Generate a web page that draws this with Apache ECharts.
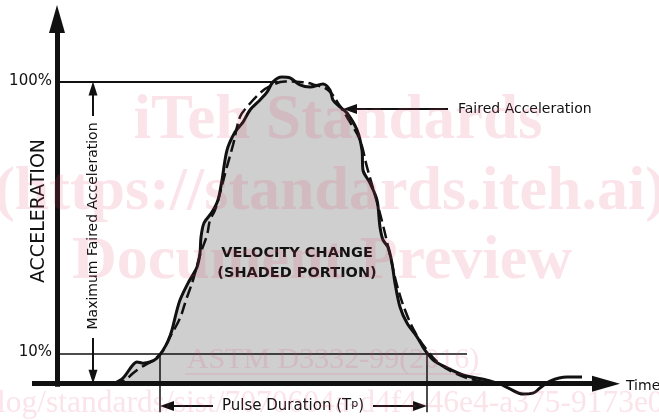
<!DOCTYPE html>
<html>
<head>
<meta charset="utf-8">
<script src="https://cdn.jsdelivr.net/npm/echarts@6/dist/echarts.min.js"></script>
<style>
  html, body { margin: 0; padding: 0; background: #fff; }
  #chart { width: 659px; height: 420px; }
</style>
</head>
<body>
<div id="chart"></div>
<script>
// measured acceleration pulse (solid), time in arbitrary units, acceleration in % of max faired
const pulseTime  = [56, 66, 75, 80, 86, 93, 100, 106, 111, 115, 119, 123, 131, 140, 143, 144, 147, 155, 161, 165, 170, 178, 186, 193, 203, 210, 216, 225, 233, 243, 253, 266, 273, 276, 283, 290, 300, 305, 306, 313, 320, 323, 326, 331, 335, 338, 343, 350, 360, 366, 370, 376, 386, 406, 430, 443];
const pulseAccel = [0, 1.9, 5.9, 7.2, 6.8, 7.2, 8.5, 11.1, 14.1, 17.8, 23.1, 27.7, 33.3, 38.6, 43.3, 48.5, 53.2, 56.8, 60.8, 67.4, 77.3, 83.3, 86.6, 90.6, 93.9, 96.5, 99.9, 101.5, 101.2, 98.9, 98.2, 99.2, 97.2, 93.9, 91.6, 89.6, 84.0, 77.3, 70.7, 66.4, 60.8, 51.9, 47.6, 45.2, 39.9, 33.3, 25.4, 20.1, 15.5, 12.1, 10.2, 7.9, 5.9, 2.9, 1.2, 0];

// ringing after the pulse
const tailTime  = [443, 453, 466, 476, 483, 493, 510, 525];
const tailAccel = [0, -1.7, -3.4, -3.1, -1.4, 0.9, 2.2, 2.2];

// faired acceleration (dashed)
const fairedTime  = [56, 68, 76, 83, 96, 105, 113, 123, 129, 136, 143, 150, 153, 158, 163, 169, 176, 183, 190, 203, 213, 228, 243, 258, 271, 283, 293, 303, 310, 318, 326, 333, 340, 348, 358, 370, 383, 398, 413, 433];
const fairedAccel = [0, 1.2, 3.5, 5.2, 7.8, 10.5, 15.5, 21.7, 27.7, 34.3, 42.6, 49.2, 54.1, 57.5, 63.1, 70.7, 79.0, 88.3, 91.6, 96.2, 98.5, 100, 99.9, 98.9, 97.2, 91.9, 86.6, 80.6, 71.7, 62.4, 52.5, 42.6, 32.6, 24.4, 17.1, 11.1, 6.5, 3.5, 1.6, 0.2];

const levelLabels = ['100%', '10%'];
const levels = [100, 10];
const pulseStart = 103, pulseEnd = 370;

const zip = (xs, ys) => xs.map((x, i) => [x, ys[i]]);

const ink = '#111';
const wm = 'rgba(225,70,115,0.15)';
const sans = '"DejaVu Sans", Verdana, sans-serif';
const serif = '"Liberation Serif", "Times New Roman", serif';

function seg(x1, y1, x2, y2, width, head) {
  const end = { coord: [x2, y2], symbol: head ? 'triangle' : 'none' };
  if (head) end.symbolSize = head;
  return [{ coord: [x1, y1], symbol: 'none', lineStyle: { color: ink, width, type: 'solid' } }, end];
}

const chart = echarts.init(document.getElementById('chart'));

chart.setOption({
  animation: false,
  grid: { left: 0, right: 0, top: 0, bottom: 0 },
  xAxis: { type: 'value', min: -57, max: 602, show: false },
  yAxis: { type: 'value', min: -12, max: 127, show: false },
  series: [
    {
      type: 'line',
      data: zip(pulseTime, pulseAccel),
      smooth: 0.3,
      symbol: 'none',
      lineStyle: { color: ink, width: 3 },
      areaStyle: { color: '#cfcfcf', opacity: 1 },
      silent: true,
      z: 2
    },
    {
      type: 'line',
      data: zip(tailTime, tailAccel),
      smooth: 0.4,
      symbol: 'none',
      lineStyle: { color: ink, width: 3 },
      silent: true,
      z: 2
    },
    {
      type: 'line',
      data: zip(fairedTime, fairedAccel),
      smooth: 0.4,
      symbol: 'none',
      lineStyle: { color: ink, width: 2.5, type: [12, 5] },
      silent: true,
      z: 3
    },
    {
      type: 'line',
      data: [],
      silent: true,
      z: 4,
      markLine: {
        silent: true,
        symbol: 'none',
        label: { show: false },
        emphasis: { disabled: true },
        data: [
          // axes
          seg(0, -1, 0, 120.7, 5, [16, 28]),
          seg(-25, 0, 549, 0, 5, [16, 28]),
          // 100% and 10% levels
          seg(0, levels[0], 221, levels[0], 2),
          seg(0, levels[1], 410, levels[1], 1.5),
          // pulse duration
          seg(pulseStart, levels[1], pulseStart, -9.4, 1.5),
          seg(pulseEnd, levels[1], pulseEnd, -9.4, 1.5),
          seg(156, -7.4, pulseStart + 7, -7.4, 2, [10, 14]),
          seg(316, -7.4, pulseEnd - 7, -7.4, 2, [10, 14]),
          // maximum faired acceleration
          seg(36, 88.6, 36, 97.7, 2, [9, 14]),
          seg(36, 15.1, 36, 2.3, 2, [9, 14]),
          // faired acceleration pointer
          seg(391, 90.9, 293, 90.9, 2, [10, 14])
        ]
      }
    }
  ],
  graphic: [
    { type: 'text', x: 52, y: 81.5, style: { text: levelLabels[0], fill: ink, fontSize: 15, fontFamily: sans, align: 'right', verticalAlign: 'middle' } },
    { type: 'text', x: 52, y: 352, style: { text: levelLabels[1], fill: ink, fontSize: 15, fontFamily: sans, align: 'right', verticalAlign: 'middle' } },
    { type: 'text', x: 39, y: 211, rotation: Math.PI / 2, style: { text: 'ACCELERATION', fill: ink, fontSize: 19, fontFamily: sans, align: 'center', verticalAlign: 'middle' } },
    { type: 'text', x: 93, y: 226, rotation: Math.PI / 2, style: { text: 'Maximum Faired Acceleration', fill: ink, fontSize: 14, fontFamily: sans, align: 'center', verticalAlign: 'middle' } },
    { type: 'text', x: 458, y: 109, style: { text: 'Faired Acceleration', fill: ink, fontSize: 14, fontFamily: sans, align: 'left', verticalAlign: 'middle' } },
    { type: 'text', x: 297, y: 253, z: 10, style: { text: 'VELOCITY CHANGE', fill: ink, fontSize: 14.5, fontWeight: 'bold', fontFamily: sans, align: 'center', verticalAlign: 'middle' } },
    { type: 'text', x: 297, y: 273, z: 10, style: { text: '(SHADED PORTION)', fill: ink, fontSize: 14.5, fontWeight: 'bold', fontFamily: sans, align: 'center', verticalAlign: 'middle' } },
    {
      type: 'text', x: 222, y: 413,
      style: {
        text: '{a|Pulse Duration (T}{b|p}{a|)}',
        align: 'left', verticalAlign: 'middle',
        rich: {
          a: { fill: ink, fontSize: 15, fontFamily: sans, lineHeight: 14, verticalAlign: 'top' },
          b: { fill: ink, fontSize: 11, fontFamily: sans, lineHeight: 28, verticalAlign: 'top' }
        }
      }
    },
    { type: 'text', x: 626, y: 386, style: { text: 'Time', fill: ink, fontSize: 14, fontFamily: sans, align: 'left', verticalAlign: 'middle' } },

    // watermark
    { type: 'text', x: 338, y: 122, z: 20, silent: true, style: { text: 'iTeh Standards', fill: wm, fontSize: 63, fontWeight: 'bold', fontFamily: serif, align: 'center', verticalAlign: 'middle' } },
    { type: 'text', x: 330, y: 193, z: 20, silent: true, style: { text: '(https://standards.iteh.ai)', fill: wm, fontSize: 62, fontWeight: 'bold', fontFamily: serif, align: 'center', verticalAlign: 'middle' } },
    { type: 'text', x: 322, y: 262, z: 20, silent: true, style: { text: 'Document Preview', fill: wm, fontSize: 62, fontWeight: 'bold', fontFamily: serif, align: 'center', verticalAlign: 'middle' } },
    { type: 'text', x: 333, y: 360, z: 20, silent: true, style: { text: 'ASTM D3332-99(2016)', fill: wm, fontSize: 30, fontFamily: serif, align: 'center', verticalAlign: 'middle' } },
    { type: 'line', z: 20, silent: true, shape: { x1: 185, y1: 374, x2: 481, y2: 374 }, style: { stroke: wm, lineWidth: 1.5 } },
    { type: 'text', x: -3, y: 404, z: 20, silent: true, style: { text: 'log/standards/sist/7070604a-d4f4-46e4-a375-9173e0', fill: wm, fontSize: 31.5, fontFamily: serif, align: 'left', verticalAlign: 'middle' } }
  ]
});
</script>
</body>
</html>
